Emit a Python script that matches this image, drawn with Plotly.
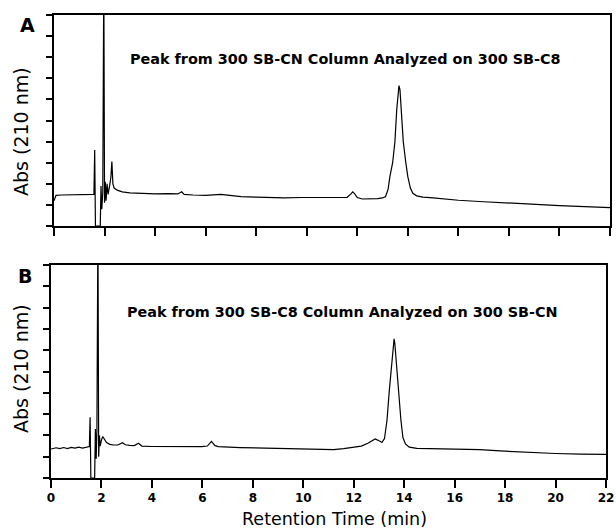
import plotly.graph_objects as go

# ---------------- data ----------------
# Panel A: Peak from 300 SB-CN column analysed on 300 SB-C8
time_a = [0.0, 0.08, 0.3, 0.6, 0.9, 1.2, 1.5, 1.58, 1.61, 1.64, 1.83, 1.86, 1.89, 1.93,
          1.97, 2.0, 2.03, 2.06, 2.1, 2.14, 2.2, 2.25, 2.29, 2.33, 2.38, 2.5, 2.7, 3.0,
          3.5, 4.0, 4.5, 4.9, 5.05, 5.15, 5.5, 6.0, 6.6, 7.0, 7.4, 8.0, 8.5, 9.1, 9.8,
          10.5, 11.2, 11.6, 11.75, 11.82, 11.9, 12.0, 12.2, 12.5, 12.8, 13.0, 13.12,
          13.22, 13.29, 13.40, 13.49, 13.56, 13.62, 13.65, 13.69, 13.74, 13.82, 13.92,
          14.0, 14.1, 14.2, 14.35, 14.6, 15.0, 16.0, 17.0, 17.9, 19.0, 20.0, 21.0, 22.0]
abs_a = [1.2, 1.45, 1.47, 1.47, 1.48, 1.47, 1.48, 1.5, 3.6, 0.0, 0.0, 1.9, 0.8, 1.6,
         12.0, 1.1, 2.1, 1.2, 2.0, 1.5, 1.9, 2.3, 3.05, 2.0, 1.8, 1.7, 1.62, 1.57,
         1.55, 1.52, 1.53, 1.52, 1.62, 1.5, 1.47, 1.45, 1.5, 1.46, 1.39, 1.37, 1.35, 1.33, 1.35,
         1.35, 1.34, 1.36, 1.52, 1.62, 1.52, 1.35, 1.28, 1.28, 1.3, 1.33, 1.40,
         1.75, 2.34, 3.0, 4.0, 5.5, 6.45, 6.65, 6.45, 5.5, 4.0, 3.0,
         2.34, 1.8, 1.55, 1.43, 1.37, 1.33, 1.22, 1.15, 1.09, 1.02, 0.97, 0.92, 0.87]

# Panel B: Peak from 300 SB-C8 column analysed on 300 SB-CN
time_b = [0.0, 0.2, 0.35, 0.5, 0.65, 0.8, 0.95, 1.1, 1.25, 1.4, 1.52, 1.55, 1.58, 1.73,
          1.76, 1.79, 1.82, 1.86, 1.89, 1.92, 1.95, 2.0, 2.05, 2.2, 2.33, 2.48, 2.65,
          2.83, 2.95, 3.12, 3.3, 3.47, 3.6, 4.0, 5.0, 5.97, 6.2, 6.36, 6.5, 6.63, 7.5,
          8.6, 9.9, 11.2, 11.6, 12.0, 12.3, 12.56, 12.75, 12.85, 12.95, 13.12, 13.22,
          13.32, 13.41, 13.51, 13.57, 13.6, 13.63, 13.68, 13.77, 13.87, 13.95, 14.05,
          14.2, 14.5, 15.0, 16.0, 17.0, 17.8, 19.0, 20.0, 21.0, 22.0]
abs_b = [1.36, 1.42, 1.38, 1.43, 1.38, 1.44, 1.4, 1.45, 1.4, 1.46, 1.48, 2.85, 0.0, 0.0,
         2.3, 0.9, 2.2, 12.0, 1.0, 2.0, 1.5, 1.78, 1.95, 1.66, 1.58, 1.55, 1.55,
         1.66, 1.56, 1.53, 1.52, 1.63, 1.5, 1.48, 1.47, 1.47, 1.5, 1.72, 1.52, 1.47, 1.43,
         1.39, 1.35, 1.33, 1.38, 1.43, 1.5, 1.63, 1.78, 1.83, 1.78, 1.67, 1.85,
         2.72, 4.1, 5.54, 6.3, 6.53, 6.3, 5.54, 4.1, 2.72, 1.9, 1.6,
         1.45, 1.39, 1.38, 1.36, 1.33, 1.27, 1.2, 1.15, 1.12, 1.11]

x_tick_values = [0, 2, 4, 6, 8, 10, 12, 14, 16, 18, 20, 22]
y_tick_values = [0, 1, 2, 3, 4, 5, 6, 7, 8, 9, 10]
title_a = "Peak from 300 SB-CN Column Analyzed on 300 SB-C8"
title_b = "Peak from 300 SB-C8 Column Analyzed on 300 SB-CN"
y_title = "Abs (210 nm)"
x_title = "Retention Time (min)"

# ---------------- figure ----------------
W, H = 616, 532
def px(x):
    return x / W
def py(y):
    return 1 - y / H

fig = go.Figure()
fig.add_trace(go.Scatter(x=time_a, y=abs_a, mode="lines", xaxis="x", yaxis="y",
                         line=dict(color="black", width=1.2), showlegend=False))
fig.add_trace(go.Scatter(x=time_b, y=abs_b, mode="lines", xaxis="x2", yaxis="y2",
                         line=dict(color="black", width=1.2), showlegend=False))

tick_font = dict(family="DejaVu Sans", size=12, color="black", weight="bold")
common_x = dict(range=[0, 22], tickvals=x_tick_values, ticks="outside", ticklen=8,
                tickwidth=1.5, tickcolor="black", showline=True, linecolor="black",
                linewidth=2, mirror=True, showgrid=False, zeroline=False,
                tickfont=tick_font, automargin=False)
common_y = dict(range=[0, 10], tickvals=y_tick_values, ticks="outside", ticklen=6,
                tickwidth=1.5, tickcolor="black", showline=True, linecolor="black",
                linewidth=2, mirror=True, showgrid=False, zeroline=False,
                showticklabels=False, automargin=False)

fig.update_layout(
    width=W, height=H,
    margin=dict(l=0, r=0, t=0, b=0, autoexpand=False),
    paper_bgcolor="white", plot_bgcolor="white",
    xaxis=dict(common_x, domain=[px(54), px(610)], anchor="y", showticklabels=False),
    yaxis=dict(common_y, domain=[py(226), py(15)], anchor="x"),
    xaxis2=dict(common_x, domain=[px(51), px(606)], anchor="y2", showticklabels=True),
    yaxis2=dict(common_y, domain=[py(478), py(265)], anchor="x2"),
)

ann = []
ann.append(dict(text="<b>A</b>", x=px(27), y=py(25), font=dict(family="DejaVu Sans", size=19, color="black")))
ann.append(dict(text="<b>B</b>", x=px(25), y=py(276), font=dict(family="DejaVu Sans", size=19, color="black")))
ann.append(dict(text="<b>" + title_a + "</b>", x=px(345), y=py(59), font=dict(family="DejaVu Sans", size=14.4, color="black")))
ann.append(dict(text="<b>" + title_b + "</b>", x=px(342), y=py(312), font=dict(family="DejaVu Sans", size=14.4, color="black")))
ann.append(dict(text=y_title, x=px(21), y=py(132), textangle=-90, font=dict(family="DejaVu Sans", size=19, color="black")))
ann.append(dict(text=y_title, x=px(21), y=py(369), textangle=-90, font=dict(family="DejaVu Sans", size=19, color="black")))
ann.append(dict(text=x_title, x=px(335), y=py(519), font=dict(family="DejaVu Sans", size=17.5, color="black")))
for a in ann:
    a.update(xref="paper", yref="paper", xanchor="center", yanchor="middle", showarrow=False)
fig.update_layout(annotations=ann)

fig.write_html("out.html", config={"displayModeBar": False},
               post_script="document.body.style.margin='0';document.body.style.overflow='hidden';")
